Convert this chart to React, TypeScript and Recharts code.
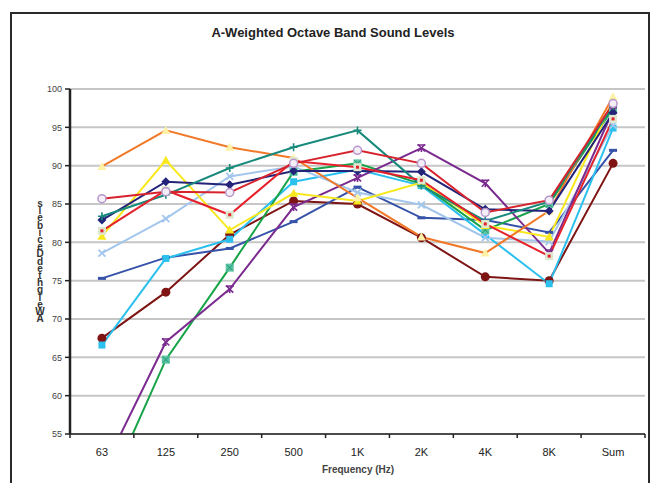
import { LineChart, Line, XAxis, YAxis, CartesianGrid } from 'recharts'

const bands = ['63', '125', '250', '500', '1K', '2K', '4K', '8K', 'Sum']
const yTicks = [55, 60, 65, 70, 75, 80, 85, 90, 95, 100]

// dBA per octave band
const orangeTri = [89.9, 94.6, 92.4, 91.0, 85.8, 80.7, 78.6, 84.1, 99.0]
const yellowTri = [80.8, 90.7, 81.6, 86.4, 85.4, 87.8, 82.2, 80.7, 98.5]
const navyDiamond = [82.9, 87.9, 87.5, 89.3, 89.3, 89.2, 84.3, 84.1, 96.9]
const blueDash = [75.3, 78.0, 79.2, 82.7, 87.2, 83.2, 82.9, 81.3, 92.0]
const tealPlus = [83.4, 86.2, 89.7, 92.4, 94.6, 87.4, 82.8, 85.3, 97.8]
const redSquare = [81.5, 86.8, 83.6, 90.6, 89.8, 88.1, 82.4, 78.2, 96.1]
const redRing = [85.7, 86.6, 86.5, 90.3, 92.0, 90.3, 83.9, 85.5, 98.1]
const lightBlueX = [78.6, 83.1, 88.6, 89.9, 86.5, 84.9, 80.6, 80.1, 95.3]
const cyanSquare = [66.6, 77.9, 80.4, 87.9, 89.5, 87.4, 81.0, 74.6, 94.9]
const darkRedDot = [67.5, 73.5, 81.0, 85.4, 85.0, 80.6, 75.5, 75.0, 90.3]
const purpleStar = [50.0, 67.0, 73.9, 84.6, 88.4, 92.3, 87.7, 78.6, 97.2]
const greenBox = [46.0, 64.7, 76.7, 89.2, 90.3, 87.6, 81.6, 85.0, 97.5]

const seriesStyles = [
  { key: 'darkRedDot', values: darkRedDot, color: '#7e1414', shape: 'disc', mark: '#7e1414' },
  { key: 'blueDash', values: blueDash, color: '#3552a8', shape: 'dash', mark: '#3552a8' },
  { key: 'cyanSquare', values: cyanSquare, color: '#2cc0ef', shape: 'square', mark: '#2cc0ef' },
  { key: 'lightBlueX', values: lightBlueX, color: '#a3c6ec', shape: 'cross', mark: '#a3c6ec' },
  { key: 'greenBox', values: greenBox, color: '#17a348', shape: 'boxCross', mark: '#5cc3a2' },
  { key: 'purpleStar', values: purpleStar, color: '#7b2b8f', shape: 'star', mark: '#7b2b8f' },
  { key: 'yellowTri', values: yellowTri, color: '#f8e81c', shape: 'triangle', mark: '#f8e81c' },
  { key: 'orangeTri', values: orangeTri, color: '#f07a2a', shape: 'triangle', mark: '#fdf1a6' },
  { key: 'navyDiamond', values: navyDiamond, color: '#232379', shape: 'diamond', mark: '#232379' },
  { key: 'tealPlus', values: tealPlus, color: '#178a7b', shape: 'plus', mark: '#178a7b' },
  { key: 'redSquare', values: redSquare, color: '#e5222b', shape: 'boxDot', mark: '#dde8cf' },
  { key: 'redRing', values: redRing, color: '#d7232d', shape: 'ring', mark: '#b795c9' },
]

const data = bands.map((band, i) => {
  const row: Record<string, string | number> = { band }
  seriesStyles.forEach((s) => {
    row[s.key] = s.values[i]
  })
  return row
})

// the source draws this title as upright letters stacked bottom-to-top
const yLabel = 'A Weighted Decibels'.replace(/ /g, '').split('').reverse()

const FONT = 'Liberation Sans, Arial, sans-serif'
const PLOT_W = 575
const BAND_PAD = PLOT_W / bands.length / 2

function Marker({ cx, cy, shape, color, mark }: any) {
  if (cx == null || cy == null) return null
  const r = 3.5
  switch (shape) {
    case 'triangle':
      return <path d={`M${cx},${cy - 4.5}L${cx + 4.5},${cy + 3.5}L${cx - 4.5},${cy + 3.5}Z`} fill={mark} />
    case 'diamond':
      return <path d={`M${cx},${cy - 4.5}L${cx + 4.5},${cy}L${cx},${cy + 4.5}L${cx - 4.5},${cy}Z`} fill={mark} />
    case 'dash':
      return <rect x={cx - 4} y={cy - 1.5} width={8} height={3} fill={mark} />
    case 'plus':
      return (
        <g stroke={mark} strokeWidth={1.6}>
          <line x1={cx - 4} y1={cy} x2={cx + 4} y2={cy} />
          <line x1={cx} y1={cy - 4} x2={cx} y2={cy + 4} />
        </g>
      )
    case 'cross':
      return (
        <g stroke={mark} strokeWidth={1.8}>
          <line x1={cx - r} y1={cy - r} x2={cx + r} y2={cy + r} />
          <line x1={cx - r} y1={cy + r} x2={cx + r} y2={cy - r} />
        </g>
      )
    case 'square':
      return <rect x={cx - r} y={cy - r} width={r * 2} height={r * 2} fill={mark} />
    case 'boxDot':
      return (
        <g>
          <rect x={cx - 4} y={cy - 4} width={8} height={8} fill={mark} />
          <rect x={cx - 1.5} y={cy - 1.5} width={3} height={3} fill={color} />
        </g>
      )
    case 'boxCross':
      return (
        <g>
          <rect x={cx - 4} y={cy - 4} width={8} height={8} fill={mark} />
          <g stroke="#1f9a74" strokeWidth={1}>
            <line x1={cx - 3} y1={cy - 3} x2={cx + 3} y2={cy + 3} />
            <line x1={cx - 3} y1={cy + 3} x2={cx + 3} y2={cy - 3} />
          </g>
        </g>
      )
    case 'ring':
      return <circle cx={cx} cy={cy} r={4} fill="#f4eef8" stroke={mark} strokeWidth={1.5} />
    case 'disc':
      return <circle cx={cx} cy={cy} r={4.5} fill={mark} />
    case 'star':
      return (
        <g stroke={mark} strokeWidth={1.6}>
          <line x1={cx - 4} y1={cy - 3} x2={cx + 4} y2={cy - 3} />
          <line x1={cx - r} y1={cy - r} x2={cx + r} y2={cy + r} />
          <line x1={cx - r} y1={cy + r} x2={cx + r} y2={cy - r} />
          <line x1={cx} y1={cy - 1} x2={cx} y2={cy + 4} />
        </g>
      )
    default:
      return null
  }
}

function BandTick(props: any) {
  const { x, y, payload, index, visibleTicksCount } = props
  const bw = BAND_PAD * 2
  const axisY = y - 8
  const left = x - bw / 2
  return (
    <g>
      <line x1={left} y1={axisY} x2={left} y2={axisY + 4} stroke="#222" strokeWidth={1.5} />
      {index === visibleTicksCount - 1 && (
        <line x1={x + bw / 2} y1={axisY} x2={x + bw / 2} y2={axisY + 4} stroke="#222" strokeWidth={1.5} />
      )}
      <text x={x} y={y + 14} textAnchor="middle" fontSize={11} fill="#222" fontFamily={FONT}>
        {payload.value}
      </text>
    </g>
  )
}

export default function App() {
  return (
    <div style={{ position: 'relative', width: 642, height: 475, overflow: 'hidden', fontFamily: FONT }}>
      <div
        style={{
          position: 'absolute',
          left: 2,
          top: 4,
          width: 636,
          height: 520,
          border: '2px solid #2a2a2a',
        }}
      />
      <div
        style={{
          position: 'absolute',
          left: 0,
          top: 17,
          width: 650,
          textAlign: 'center',
          fontSize: 13,
          fontWeight: 'bold',
          color: '#222',
        }}
      >
        A-Weighted Octave Band Sound Levels
      </div>
      <svg width={30} height={140} style={{ position: 'absolute', left: 18, top: 185 }}>
        <text fontSize={10} fontWeight="bold" fill="#333" fontFamily={FONT} textAnchor="middle">
          {yLabel.map((ch, i) => (
            <tspan key={i} x={14} y={14 + i * 7.2}>
              {ch}
            </tspan>
          ))}
        </text>
      </svg>
      <div
        style={{
          position: 'absolute',
          left: 250,
          top: 456,
          width: 200,
          textAlign: 'center',
          fontSize: 10,
          fontWeight: 'bold',
          color: '#444',
        }}
      >
        Frequency (Hz)
      </div>
      <div style={{ position: 'absolute', left: 0, top: 0 }}>
        <LineChart width={642} height={475} data={data} margin={{ top: 81, right: 5, left: 0, bottom: 0 }}>
          <CartesianGrid vertical={false} stroke="#c6c6c6" strokeWidth={2} />
          <XAxis
            dataKey="band"
            height={49}
            padding={{ left: BAND_PAD, right: BAND_PAD }}
            tickLine={false}
            axisLine={{ stroke: '#222', strokeWidth: 1.5 }}
            tick={<BandTick />}
            interval={0}
          />
          <YAxis
            width={62}
            domain={[55, 100]}
            ticks={yTicks}
            allowDataOverflow
            tickSize={5}
            tickMargin={3}
            tickLine={{ stroke: '#222', strokeWidth: 1.5 }}
            axisLine={{ stroke: '#222', strokeWidth: 2.5 }}
            tick={{ fontSize: 9, fill: '#444', fontFamily: FONT }}
          />
          {seriesStyles.map((s) => (
            <Line
              key={s.key}
              dataKey={s.key}
              stroke={s.color}
              strokeWidth={2}
              isAnimationActive={false}
              dot={(p: any) => (
                <Marker key={`${s.key}-${p.index}`} cx={p.cx} cy={p.cy} shape={s.shape} color={s.color} mark={s.mark} />
              )}
              activeDot={false}
            />
          ))}
        </LineChart>
      </div>
    </div>
  )
}
